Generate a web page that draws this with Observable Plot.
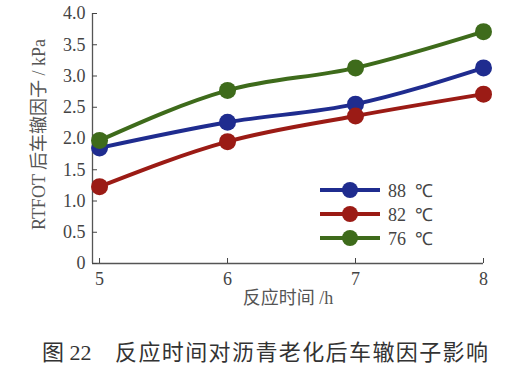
<!DOCTYPE html>
<html><head><meta charset="utf-8">
<script src="https://cdn.jsdelivr.net/npm/d3@7"></script>
<script src="https://cdn.jsdelivr.net/npm/@observablehq/plot@0.6"></script>
<style>
body{margin:0;background:#fff;width:506px;height:369px;position:relative;overflow:hidden;font-family:"Liberation Serif","DejaVu Serif",serif;}
#chart svg text{font-family:"Liberation Serif","Noto Sans CJK SC",serif !important;}
#legend{position:absolute;left:318px;top:178px;font-family:"Liberation Serif",serif;font-size:18px;color:#444;}
#legend .row{display:flex;align-items:center;height:24px;}
#caption{position:absolute;left:42px;top:334px;font-family:"Liberation Serif","Noto Sans CJK SC",serif;font-size:22px;color:#333;white-space:pre;}
#caption .num{display:inline-block;width:73px;}
#caption .txt{letter-spacing:1.4px;}
</style></head>
<body>
<div id="chart"></div>
<div id="legend"></div>
<div id="caption"><span class="num"></span><span class="txt"></span></div>
<script>
const hours = [5, 6, 7, 8];
const seriesNames = ["88 ℃", "82 ℃", "76 ℃"];
const values88 = [1.85, 2.26, 2.55, 3.13];
const values82 = [1.23, 1.95, 2.36, 2.71];
const values76 = [1.97, 2.77, 3.13, 3.71];
const seriesColors = ["#1f2c8f", "#9b1b15", "#3e6b1b"];
const yTicks = [0, 0.5, 1, 1.5, 2, 2.5, 3, 3.5, 4];
const yTickLabels = ["0", "0.5", "1.0", "1.5", "2.0", "2.5", "3.0", "3.5", "4.0"];
const xTicks = [5, 6, 7, 8];
const xDomain = [4.945, 8];
const yLabel = "RTFOT 后车辙因子 / kPa";
const xLabel = "反应时间 /h";
const captionNum = "图 22";
const captionText = "反应时间对沥青老化后车辙因子影响";

const allValues = [values88, values82, values76];
const data = [];
seriesNames.forEach((s, i) => hours.forEach((h, j) => data.push({series: s, h, v: allValues[i][j]})));

const plot = Plot.plot({
  width: 506, height: 318,
  marginLeft: 92, marginRight: 23, marginTop: 13, marginBottom: 55,
  style: "font-family: 'Liberation Serif', serif; font-size: 18px; color: #444; background: #fff;",
  x: {domain: xDomain},
  y: {domain: [0, 4]},
  color: {domain: seriesNames, range: seriesColors},
  marks: [
    Plot.ruleY([0], {stroke: "#555", strokeWidth: 1.3}),
    Plot.ruleX([xDomain[0]], {stroke: "#555", strokeWidth: 1.3}),
    Plot.axisY({ticks: yTicks, tickFormat: (d) => yTickLabels[yTicks.indexOf(d)], tickSize: -5, tickPadding: 12, fontSize: 18, label: null}),
    Plot.axisX({ticks: xTicks, tickFormat: d => String(d), tickSize: -5, tickPadding: 14, fontSize: 18, label: null}),
    Plot.line(data, {x: "h", y: "v", z: "series", stroke: "series", strokeWidth: 4, curve: "monotone-x"}),
    Plot.dot(data, {x: "h", y: "v", fill: "series", r: 8.5}),
    Plot.text([yLabel], {frameAnchor: "left", textAnchor: "middle", dx: -53, dy: -4, rotate: -90, fontSize: 18, fill: "#555"}),
    Plot.text([xLabel], {frameAnchor: "bottom", dy: 40, fontSize: 18, fill: "#555"})
  ]
});
document.getElementById("chart").appendChild(plot);

const leg = document.getElementById("legend");
seriesNames.forEach((s, i) => {
  const row = document.createElement("div");
  row.className = "row";
  row.innerHTML = `<svg width="64" height="20"><line x1="2" x2="62" y1="10" y2="10" stroke="${seriesColors[i]}" stroke-width="4"/><circle cx="32" cy="10" r="8" fill="${seriesColors[i]}"/></svg><span style="margin-left:6px">${s.replace(" ", "&nbsp;&nbsp;")}</span>`;
  leg.appendChild(row);
});
document.querySelector("#caption .num").textContent = captionNum;
document.querySelector("#caption .txt").textContent = captionText;
</script>
</body></html>
